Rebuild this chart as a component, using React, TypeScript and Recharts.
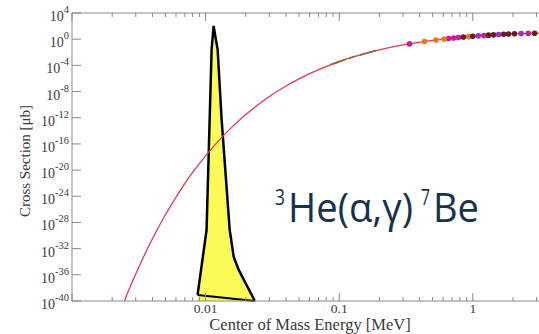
import React from "react";
import { ComposedChart, Line, Area, Scatter, XAxis, YAxis } from "recharts";

// fitted red curve, energy in MeV, cross section in microbarn
const energies = [0.0024, 0.0025, 0.003, 0.0035, 0.004, 0.005, 0.006, 0.007, 0.008, 0.01, 0.012, 0.015, 0.02, 0.03, 0.04, 0.05, 0.07, 0.1, 0.15, 0.2, 0.3, 0.5, 0.7, 1, 1.5, 2, 3.2];
const crossSection = [2.3e-41, 2e-40, 1.3e-36, 1.3e-33, 3.2e-31, 1.5e-27, 7e-25, 9e-23, 4.3e-21, 1.5e-18, 1.2e-16, 1.4e-14, 3e-12, 1.7e-9, 7e-8, 8.5e-7, 2.2e-5, 3.8e-4, 5e-3, 2.3e-2, 0.13, 0.66, 1.45, 2.8, 4.8, 6.4, 8.6];

// measured points, grouped by marker colour
const lowE = [0.09, 0.095, 0.1, 0.107, 0.125, 0.15, 0.165, 0.18];
const lowS = [1.7e-4, 2.6e-4, 3.8e-4, 6.2e-4, 1.7e-3, 5e-3, 8.7e-3, 1.4e-2];
const magentaE = [0.336, 0.66, 0.72, 0.78, 1.21, 2.6];
const magentaS = [0.19, 1.28, 1.55, 1.81, 3.72, 7.7];
const orangeE = [0.435, 0.53, 0.61, 0.93];
const orangeS = [0.45, 0.76, 1.07, 2.49];
const maroonE = [0.85, 1.0, 1.31, 1.43, 1.7, 1.85, 2.05, 2.9];
const maroonS = [2.13, 2.8, 4.12, 4.59, 5.53, 5.98, 6.53, 8.2];
const purpleE = [1.1, 1.56, 2.3];
const purpleS = [3.25, 5.06, 7.1];

// Gamow window, arbitrary linear units
const gamowE = [0.00871, 0.01017, 0.01072, 0.01109, 0.01148, 0.01231, 0.01319, 0.01515, 0.01624, 0.0177, 0.02336];
const gamowG = [0.021, 0.247, 0.628, 0.872, 0.955, 0.872, 0.628, 0.247, 0.153, 0.108, 0];
const gamowBaseE = [0.00871, 0.02336];
const gamowBaseG = [0.021, 0];

const xTicks = [0.001, 0.002, 0.003, 0.004, 0.005, 0.006, 0.007, 0.008, 0.009, 0.01, 0.02, 0.03, 0.04, 0.05, 0.06, 0.07, 0.08, 0.09, 0.1, 0.2, 0.3, 0.4, 0.5, 0.6, 0.7, 0.8, 0.9, 1, 2, 3];
const xMajor = [0.001, 0.01, 0.1, 1];
const xLabels: Record<string, string> = { "0.01": "0.01", "0.1": "0.1", "1": "1" };
const yTicks = [1e4, 1, 1e-4, 1e-8, 1e-12, 1e-16, 1e-20, 1e-24, 1e-28, 1e-32, 1e-36, 1e-40];

const zip = (xs: number[], ys: number[], key: string) => xs.map((e, i) => ({ e, [key]: ys[i] }));

const curveData = zip(energies, crossSection, "s");
const gamowData = zip(gamowE, gamowG, "g");
const gamowBase = zip(gamowBaseE, gamowBaseG, "g");

const AXIS = "#8a8a8a";
const TEXT = "#3a3a3a";
const SERIF = "'Liberation Serif', 'Times New Roman', serif";
const SANS = "'Open Sans', sans-serif";
const NAVY = "#17324f";

function BottomTick({ x, y, payload }: any) {
  const v = payload.value;
  const major = xMajor.includes(v);
  const label = xLabels[String(v)];
  return (
    <g>
      <line x1={x} x2={x} y1={y} y2={y - (major ? 8 : 4)} stroke={AXIS} />
      {label && (
        <text x={x} y={y + 12} textAnchor="middle" fontFamily={SERIF} fontSize={13.5} fill={TEXT}>
          {label}
        </text>
      )}
    </g>
  );
}

function TopTick({ x, y, payload }: any) {
  const major = xMajor.includes(payload.value);
  return <line x1={x} x2={x} y1={y} y2={y + (major ? 8 : 4)} stroke={AXIS} />;
}

function LeftTick({ x, y, payload }: any) {
  const exp = Math.round(Math.log10(payload.value));
  return (
    <g>
      <line x1={x} x2={x + 9} y1={y} y2={y} stroke={AXIS} />
      <text x={x - 3} y={y + 8} textAnchor="end" fontFamily={SERIF} fontSize={14} fill={TEXT}>
        <tspan>10</tspan>
        <tspan dy={-8} fontSize={10.5}>{exp}</tspan>
      </text>
    </g>
  );
}

function RightTick({ x, y }: any) {
  return <line x1={x - 7} x2={x} y1={y} y2={y} stroke={AXIS} />;
}

const dot = (fill: string) => (p: any) => <circle cx={p.cx} cy={p.cy} r={2.8} fill={fill} />;
const dash = (p: any) => (
  <line x1={p.cx - 3} x2={p.cx + 3} y1={p.cy + 1} y2={p.cy - 1} stroke="#8a6a3a" strokeWidth={1.6} />
);

export default function App() {
  return (
    <div style={{ position: "absolute", left: 0, top: 0, width: 539, height: 334, background: "#fff" }}>
      <ComposedChart width={539} height={334} margin={{ top: 0, right: 0, bottom: 3, left: 12 }}>
        <XAxis
          dataKey="e"
          type="number"
          scale="log"
          domain={[0.001, 3.13]}
          allowDataOverflow
          ticks={xTicks}
          interval={0}
          tickSize={0}
          tickMargin={0}
          tickLine={false}
          tick={<BottomTick />}
          axisLine={{ stroke: AXIS }}
          height={30}
        />
        <XAxis
          xAxisId="top"
          orientation="top"
          dataKey="e"
          type="number"
          scale="log"
          domain={[0.001, 3.13]}
          allowDataOverflow
          ticks={xTicks}
          interval={0}
          tickSize={0}
          tickMargin={0}
          tickLine={false}
          tick={<TopTick />}
          axisLine={{ stroke: AXIS }}
          height={13}
        />
        <YAxis
          type="number"
          scale="log"
          domain={[1e-40, 1e4]}
          allowDataOverflow
          ticks={yTicks}
          interval={0}
          tickSize={0}
          tickMargin={0}
          tickLine={false}
          tick={<LeftTick />}
          axisLine={{ stroke: AXIS }}
          width={60}
        />
        <YAxis
          yAxisId="right"
          orientation="right"
          type="number"
          scale="log"
          domain={[1e-40, 1e4]}
          allowDataOverflow
          ticks={yTicks}
          interval={0}
          tickSize={0}
          tickMargin={0}
          tickLine={false}
          tick={<RightTick />}
          axisLine={{ stroke: AXIS }}
          width={0}
        />
        <YAxis yAxisId="g" type="number" domain={[0, 1]} hide />
        <Line
          data={curveData}
          dataKey="s"
          type="monotone"
          stroke="#e8394d"
          strokeWidth={1.3}
          dot={false}
          activeDot={false}
          isAnimationActive={false}
        />
        <Scatter data={zip(lowE, lowS, "s")} dataKey="s" shape={dash} isAnimationActive={false} />
        <Scatter data={zip(magentaE, magentaS, "s")} dataKey="s" shape={dot("#c81c9c")} isAnimationActive={false} />
        <Scatter data={zip(orangeE, orangeS, "s")} dataKey="s" shape={dot("#f0741e")} isAnimationActive={false} />
        <Scatter data={zip(maroonE, maroonS, "s")} dataKey="s" shape={dot("#6a1a1a")} isAnimationActive={false} />
        <Scatter data={zip(purpleE, purpleS, "s")} dataKey="s" shape={dot("#9a2ec8")} isAnimationActive={false} />
        <Area
          data={gamowData}
          yAxisId="g"
          dataKey="g"
          type="linear"
          fill="#fafa58"
          fillOpacity={1}
          stroke="#000"
          strokeWidth={2.5}
          dot={false}
          activeDot={false}
          isAnimationActive={false}
        />
        <Line
          data={gamowBase}
          yAxisId="g"
          dataKey="g"
          type="linear"
          stroke="#000"
          strokeWidth={2}
          dot={false}
          activeDot={false}
          isAnimationActive={false}
        />
      </ComposedChart>
      <svg width={539} height={334} style={{ position: "absolute", left: 0, top: 0, pointerEvents: "none" }}>
        <text x={310} y={330} textAnchor="middle" fontFamily={SERIF} fontSize={16.5} fill={TEXT}>
          Center of Mass Energy [MeV]
        </text>
        <text
          transform="translate(30,161) rotate(-90)"
          textAnchor="middle"
          fontFamily={SERIF}
          fontSize={15}
          fill={TEXT}
        >
          Cross Section [μb]
        </text>
        <text x={275} y={205} fontFamily={SANS} fontSize={22} fill={NAVY} textLength={10} lengthAdjust="spacingAndGlyphs">
          3
        </text>
        <text x={288} y={222} fontFamily={SANS} fontSize={41} fill={NAVY} textLength={125} lengthAdjust="spacingAndGlyphs">
          He(α,γ)
        </text>
        <text x={421} y={205} fontFamily={SANS} fontSize={22} fill={NAVY} textLength={9} lengthAdjust="spacingAndGlyphs">
          7
        </text>
        <text x={433} y={222} fontFamily={SANS} fontSize={41} fill={NAVY} textLength={46} lengthAdjust="spacingAndGlyphs">
          Be
        </text>
      </svg>
    </div>
  );
}
